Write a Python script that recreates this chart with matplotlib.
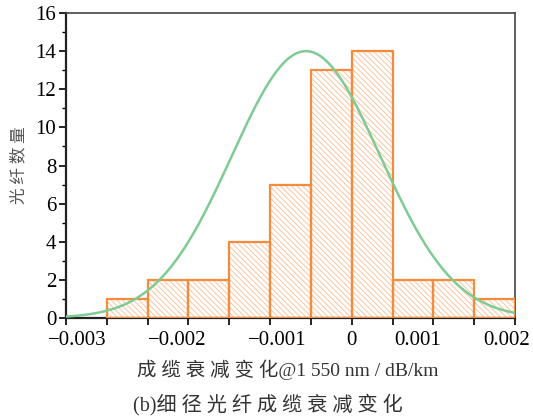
import numpy as np
import matplotlib
matplotlib.use('Agg')
import matplotlib.pyplot as plt
import matplotlib.transforms as mtransforms
from matplotlib.ticker import MultipleLocator

plt.rcParams['font.family'] = ['Liberation Serif', 'Noto Sans CJK SC']
plt.rcParams['hatch.linewidth'] = 0.7

# histogram: bin edges (dB/km) and counts
bin_edges = [-0.003, -0.0025, -0.002, -0.0015, -0.001, -0.0005, 0.0, 0.0005, 0.001, 0.0015, 0.002]
counts = [1, 2, 2, 4, 7, 13, 14, 2, 2, 1]

# fitted normal curve parameters
fit_mean = -0.00056
fit_std = 0.00091
fit_peak = 14.0

xtick_vals = [-0.003, -0.002, -0.001, 0.0, 0.001, 0.002]
xtick_labels = ['\u22120.003', '\u22120.002', '\u22120.001', '0', '0.001', '0.002']
# small horizontal nudges (points) so labels sit where the original has them
xtick_nudge = [0, -8, 5, 0, -11, -6]

ORANGE = '#F58B3C'
HATCH = '#F9C4A0'
GREEN = '#7FCB93'

fig = plt.figure(figsize=(5.33, 4.19), dpi=100)
ax = fig.add_axes([0.1238, 0.241, 0.8424, 0.728])

edges = np.array(bin_edges)
widths = np.diff(edges)
# hatched fill
ax.bar(edges[:-1], counts, width=widths, align='edge', color='white',
       edgecolor=HATCH, hatch='\\\\\\\\\\\\', linewidth=0, zorder=2)
# outline
ax.bar(edges[:-1], counts, width=widths, align='edge', fill=False,
       edgecolor=ORANGE, linewidth=1.6, zorder=3)

x0 = edges[0] - widths[0]
xs = np.linspace(x0, edges[-1], 400)
ys = fit_peak * np.exp(-0.5 * ((xs - fit_mean) / fit_std) ** 2)
ax.plot(xs, ys, color=GREEN, linewidth=1.8, zorder=4)

ax.set_xlim(x0, edges[-1])
ax.set_ylim(0, 16)

ax.xaxis.remove_overlapping_locs = False
ax.set_xticks(np.append(x0, edges))
ax.set_xticklabels([''] * (len(edges) + 1))
ax.set_xticks(xtick_vals, minor=True)
ax.set_xticklabels(xtick_labels, minor=True)
ax.tick_params(axis='x', which='minor', length=0, pad=9, labelsize=15)
ax.tick_params(axis='x', which='major', length=5, width=1.2, direction='out')
for lab, dx in zip(ax.get_xticklabels(minor=True), xtick_nudge):
    if lab.get_text() == '\u22120.003':
        lab.set_ha('right')
    lab.set_transform(lab.get_transform() +
                      mtransforms.ScaledTranslation(dx / 72, 0, fig.dpi_scale_trans))

ax.yaxis.set_major_locator(MultipleLocator(2))
ax.yaxis.set_minor_locator(MultipleLocator(1))
ax.tick_params(axis='y', which='major', length=5, width=1.2, labelsize=15, pad=2)
ax.tick_params(axis='y', which='minor', length=3, width=1.0)

for s in ['left', 'bottom']:
    ax.spines[s].set_linewidth(1.6)
    ax.spines[s].set_color('#222222')
for s in ['top', 'right']:
    ax.spines[s].set_linewidth(1.2)
    ax.spines[s].set_color('#444444')

cjk = ['Noto Sans CJK SC', 'Liberation Serif']
ax.set_ylabel('光 纤 数 量', family=cjk, fontsize=12, color='#555555', labelpad=6)
fig.text(0.54, 0.118, '成 缆 衰 减 变 化@1 550 nm / dB/km', family=['Liberation Serif', 'Noto Sans CJK SC'],
         fontsize=14, color='#333333', ha='center', va='center')
fig.text(0.502, 0.035, '(b)细 径 光 纤 成 缆 衰 减 变 化', family=['Liberation Serif', 'Noto Sans CJK SC'],
         fontsize=14.5, color='#333333', ha='center', va='center')

fig.savefig('out.png', dpi=100)
